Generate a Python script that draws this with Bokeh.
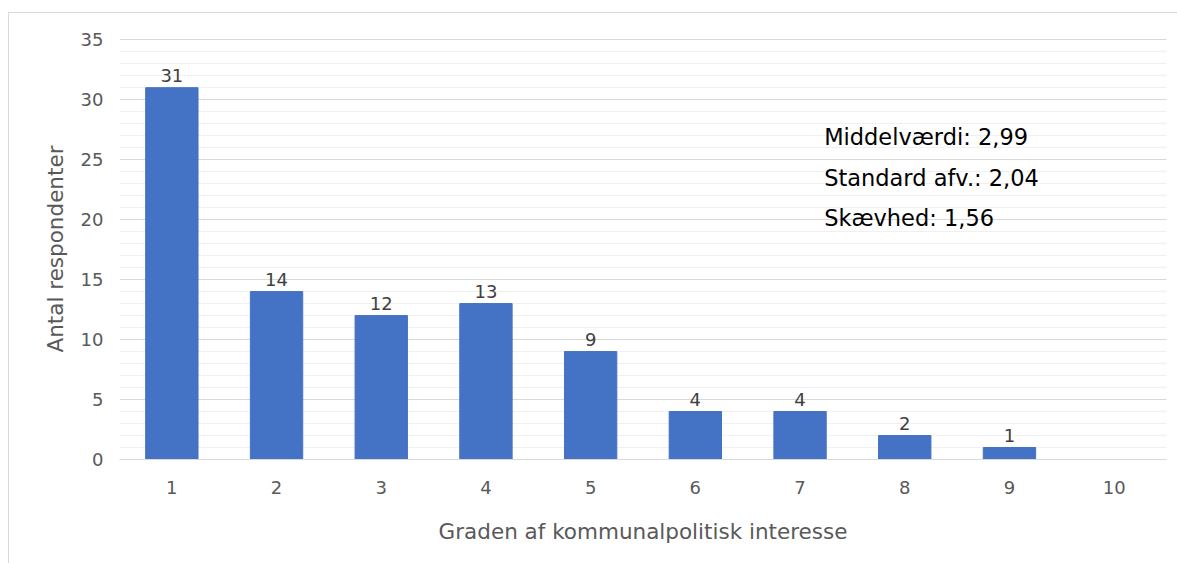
from bokeh.plotting import figure
from bokeh.models import ColumnDataSource, FixedTicker, SingleIntervalTicker, Range1d, Label
from bokeh.core.properties import value
from bokeh.embed import file_html
from bokeh.resources import INLINE

categories = [1, 2, 3, 4, 5, 6, 7, 8, 9, 10]
counts = [31, 14, 12, 13, 9, 4, 4, 2, 1, 0]
count_labels = ["31", "14", "12", "13", "9", "4", "4", "2", "1", ""]
stats_lines = ["Middelværdi: 2,99", "Standard afv.: 2,04", "Skævhed: 1,56"]
stats_y = [26.9, 23.5, 20.1]
x_title = "Graden af kommunalpolitisk interesse"
y_title = "Antal respondenter"

FONT = "DejaVu Sans"
GRAY = "#595959"

src = ColumnDataSource(dict(x=categories, top=counts, lab=count_labels))

p = figure(width=1169, height=551, output_backend="svg", toolbar_location=None,
           x_range=Range1d(0.5, 10.5), y_range=Range1d(0, 35.1),
           min_border_left=110, min_border_right=12, min_border_top=25, min_border_bottom=105)
p.margin = (12, 0, 0, 8)
p.outline_line_color = None
p.background_fill_color = "white"
p.border_fill_color = "white"
p.styles = {"border-top": "1px solid #d9d9d9", "border-left": "1px solid #d9d9d9"}

p.vbar(x="x", top="top", width=0.5, color="#4472C4", source=src)
p.text(x="x", y="top", text="lab", source=src, text_align="center", text_baseline="bottom",
       y_offset=-6, text_font_size="18px", text_color="#404040", text_font=value(FONT))

for line, yy in zip(stats_lines, stats_y):
    p.add_layout(Label(x=7.23, y=yy, text=line, text_font=FONT, text_font_size="22.5px",
                       text_color="black", text_baseline="middle", text_align="left"))

p.xgrid.visible = False
p.ygrid.grid_line_color = "#d9d9d9"
p.ygrid.minor_grid_line_color = "#f0f0f0"
p.yaxis.ticker = SingleIntervalTicker(interval=5, num_minor_ticks=5)
p.xaxis.ticker = FixedTicker(ticks=categories)

for ax in (p.xaxis, p.yaxis):
    ax.major_tick_line_color = None
    ax.minor_tick_line_color = None
    ax.major_label_text_font = FONT
    ax.major_label_text_font_size = "18px"
    ax.major_label_text_color = GRAY
    ax.axis_label_text_font = FONT
    ax.axis_label_text_font_size = "21.5px"
    ax.axis_label_text_color = GRAY
    ax.axis_label_text_font_style = "normal"

p.yaxis.axis_line_color = None
p.xaxis.axis_line_color = "#d9d9d9"
p.xaxis.axis_label = x_title
p.yaxis.axis_label = y_title
p.xaxis.major_label_standoff = 15
p.xaxis.axis_label_standoff = 22
p.yaxis.major_label_standoff = 10
p.yaxis.axis_label_standoff = 10

open("out.html", "w").write(file_html(p, INLINE))
